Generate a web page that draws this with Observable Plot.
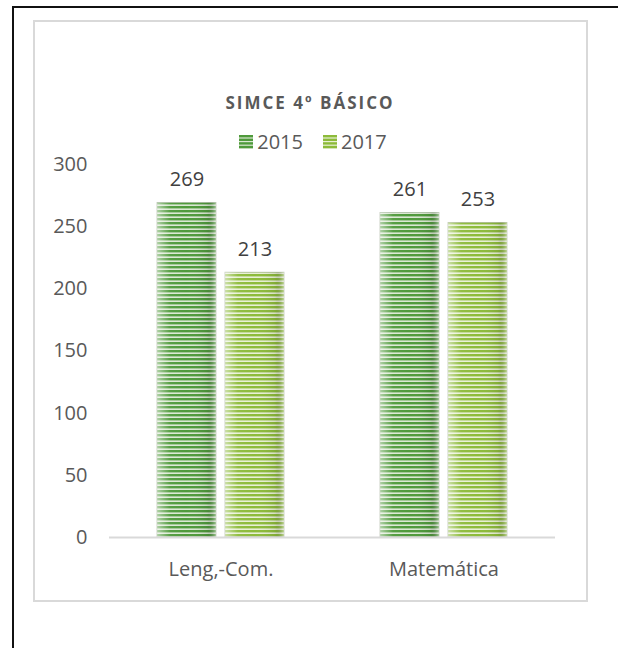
<!DOCTYPE html>
<html>
<head>
<meta charset="utf-8">
<script src="https://cdn.jsdelivr.net/npm/d3@7"></script>
<script src="https://cdn.jsdelivr.net/npm/@observablehq/plot@0.6"></script>
<style>
  html, body { margin: 0; padding: 0; background: #fff; }
  body { width: 618px; height: 648px; position: relative; overflow: hidden; font-family: "Open Sans", sans-serif; }
  #outer { position: absolute; left: 12px; top: 6px; width: 700px; height: 700px; border-left: 2px solid #111; border-top: 2px solid #111; }
  #inner { position: absolute; left: 33px; top: 20px; width: 551px; height: 578px; border: 2px solid #d9d9d9; }
  #title { position: absolute; left: 0; width: 620px; top: 91px; text-align: center; font-weight: bold; font-size: 17px; letter-spacing: 2px; color: #595959; }
  #legend { position: absolute; left: 0; width: 626px; top: 128px; display: flex; justify-content: center; gap: 20px; font-size: 20px; color: #595959; }
  #legend span.item { display: flex; align-items: center; gap: 4px; }
  #legend svg { display: block; }
  #chart { position: absolute; left: 0; top: 150px; }
</style>
</head>
<body>
<div id="outer"></div>
<div id="inner"></div>
<div id="title">SIMCE 4º BÁSICO</div>
<div id="legend"></div>
<div id="chart"></div>
<script>
const subjects = ["Leng,-Com.", "Matemática"];
const years = ["2015", "2017"];
const values2015 = [269, 261];
const values2017 = [213, 253];
const yTicks = [0, 50, 100, 150, 200, 250, 300];
const darkColors = ["#4f9a3b", "#8dbb3a"];
const lightColors = ["#dbe8d3", "#e8f0d5"];

const data = [];
subjects.forEach((s, i) => {
  data.push({subject: s, year: years[0], value: values2015[i]});
  data.push({subject: s, year: years[1], value: values2017[i]});
});

const patternIds = years.map(y => "stripe" + y);

const defsHtml = years.map((y, i) => `
  <pattern id="${patternIds[i]}" patternUnits="userSpaceOnUse" width="8" height="4">
    <rect width="8" height="4" fill="${lightColors[i]}"></rect>
    <rect width="8" height="2.4" fill="${darkColors[i]}"></rect>
  </pattern>`).join("") + `
  <linearGradient id="shade" x1="0" x2="1" y1="0" y2="0">
    <stop offset="0" stop-color="#ffffff" stop-opacity="0.55"></stop>
    <stop offset="0.22" stop-color="#ffffff" stop-opacity="0.05"></stop>
    <stop offset="0.5" stop-color="#ffffff" stop-opacity="0"></stop>
    <stop offset="0.85" stop-color="#000000" stop-opacity="0.08"></stop>
    <stop offset="1" stop-color="#ffffff" stop-opacity="0.45"></stop>
  </linearGradient>`;

const svg = Plot.plot({
  width: 618,
  height: 450,
  marginTop: 14,
  marginBottom: 63,
  marginLeft: 108,
  marginRight: 63,
  style: {fontFamily: "'Open Sans', sans-serif", fontSize: "20px", color: "#595959", background: "transparent"},
  facet: {data: data, x: "subject"},
  fx: {domain: subjects, padding: 0, axis: "bottom", tickSize: 0, tickPadding: 24, label: null},
  x: {domain: years, paddingInner: 0.13, paddingOuter: 0.685, axis: null},
  y: {domain: [0, 300], ticks: yTicks, tickSize: 0, tickPadding: 22, label: null, tickFormat: d => String(d)},
  color: {domain: years, range: patternIds.map(id => `url(#${id})`)},
  marks: [
    Plot.barY(data, {x: "year", y: "value", fill: "year", stroke: "#9aa58f", strokeWidth: 0.8, strokeOpacity: 0.6}),
    Plot.barY(data, {x: "year", y: "value", fill: "url(#shade)"}),
    Plot.ruleY([0], {stroke: "#d9d9d9", strokeWidth: 2}),
    Plot.text(data, {x: "year", y: "value", text: d => String(d.value), dy: -23, fontSize: 20, fill: "#404040"})
  ]
});

d3.select(svg).insert("defs", ":first-child").html(defsHtml);
document.getElementById("chart").appendChild(svg);

// legend
const legend = d3.select("#legend");
years.forEach((y, i) => {
  const item = legend.append("span").attr("class", "item");
  const sw = item.append("svg").attr("width", 14).attr("height", 14);
  sw.append("rect").attr("width", 14).attr("height", 14).attr("fill", lightColors[i]);
  for (let k = 0; k < 4; k++) {
    sw.append("rect").attr("y", k * 3.6).attr("width", 14).attr("height", 2.4).attr("fill", darkColors[i]);
  }
  item.append("span").text(y);
});
</script>
</body>
</html>
